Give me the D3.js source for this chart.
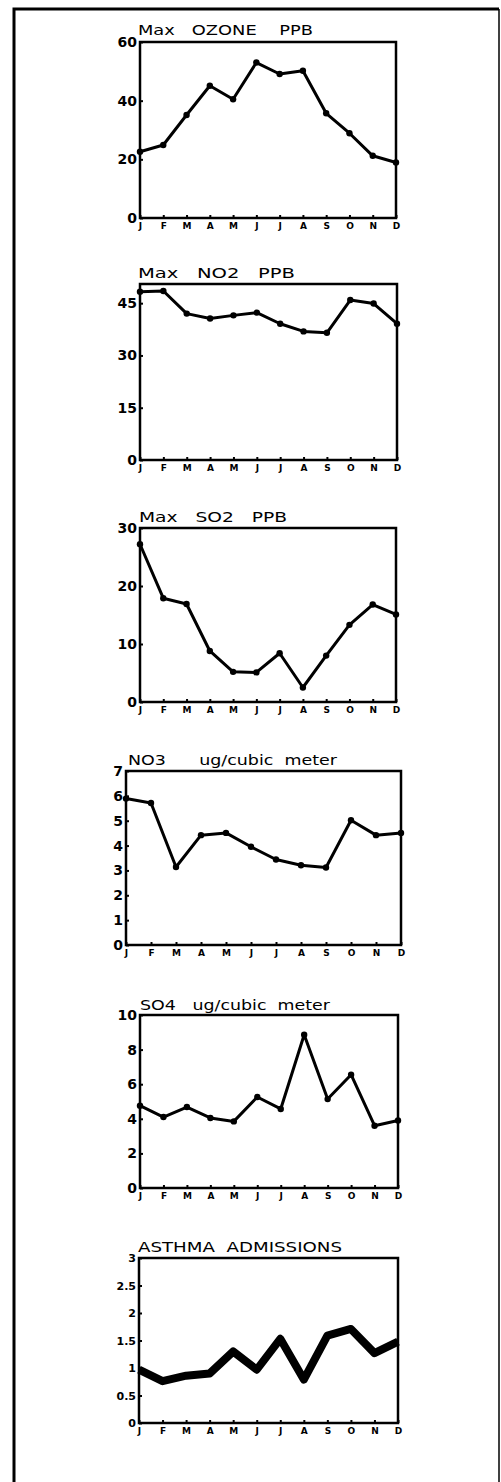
<!DOCTYPE html>
<html>
<head>
<meta charset="utf-8">
<script src="https://cdn.jsdelivr.net/npm/d3@7"></script>
<style>
  body { margin: 0; background: #fff; }
  svg { display: block; }
</style>
</head>
<body>
<div id="chart"></div>
<script>
// monthly values
var months = ["J", "F", "M", "A", "M", "J", "J", "A", "S", "O", "N", "D"];

var ozone  = [22.6, 24.9, 35.1, 45.1, 40.5, 53.0, 49.1, 50.2, 35.7, 28.9, 21.2, 18.9];
var no2    = [48.3, 48.5, 42.0, 40.6, 41.5, 42.3, 39.1, 36.9, 36.5, 45.9, 44.9, 39.1];
var so2    = [27.2, 17.9, 16.9, 8.8, 5.2, 5.1, 8.4, 2.5, 8.0, 13.3, 16.8, 15.1];
var no3    = [5.89, 5.71, 3.14, 4.42, 4.51, 3.95, 3.44, 3.21, 3.12, 5.02, 4.42, 4.51];
var so4    = [4.76, 4.10, 4.68, 4.05, 3.85, 5.26, 4.57, 8.86, 5.14, 6.55, 3.60, 3.90];
var asthma = [0.97, 0.76, 0.86, 0.90, 1.30, 0.97, 1.53, 0.79, 1.59, 1.71, 1.27, 1.48];

var ozoneTicks  = [0, 20, 40, 60];
var no2Ticks    = [0, 15, 30, 45];
var so2Ticks    = [0, 10, 20, 30];
var no3Ticks    = [0, 1, 2, 3, 4, 5, 6, 7];
var so4Ticks    = [0, 2, 4, 6, 8, 10];
var asthmaTicks = [0, 0.5, 1, 1.5, 2, 2.5, 3];

var titles = [
  "Max   OZONE    PPB",
  "Max   NO2   PPB",
  "Max   SO2   PPB",
  "NO3      ug/cubic  meter",
  "SO4   ug/cubic  meter",
  "ASTHMA  ADMISSIONS"
];

// layout of each little plot box (pixels); tw = width the title stretches over
var panels = [
  { values: ozone,  ticks: ozoneTicks,  max: 60,   x0: 140, x1: 396, y0: 42,   y1: 218,  tx: 138, ty: 35,   tw: 175 },
  { values: no2,    ticks: no2Ticks,    max: 50.5, x0: 140, x1: 397, y0: 284,  y1: 460,  tx: 138, ty: 278,  tw: 157 },
  { values: so2,    ticks: so2Ticks,    max: 30,   x0: 140, x1: 396, y0: 528,  y1: 702,  tx: 139, ty: 522,  tw: 148 },
  { values: no3,    ticks: no3Ticks,    max: 7,    x0: 126, x1: 401, y0: 771,  y1: 945,  tx: 128, ty: 765,  tw: 209 },
  { values: so4,    ticks: so4Ticks,    max: 10,   x0: 140, x1: 398, y0: 1015, y1: 1188, tx: 140, ty: 1010, tw: 190 },
  { values: asthma, ticks: asthmaTicks, max: 3,    x0: 139, x1: 398, y0: 1258, y1: 1423, tx: 138, ty: 1252, tw: 204, thick: true }
];

var width = 501;
var height = 1482;
var font = "'DejaVu Sans', sans-serif";

var svg = d3.select("#chart")
    .append("svg")
    .attr("width", width)
    .attr("height", height);

svg.append("rect")
    .attr("width", width)
    .attr("height", height)
    .attr("fill", "#fff");

//-------------------------OUTER FRAME-------------------------\\
svg.append("path")
    .attr("d", "M14," + height + "V9H499")
    .attr("fill", "none")
    .attr("stroke", "#000")
    .attr("stroke-width", 3);
svg.append("line")
    .attr("x1", 499).attr("x2", 499)
    .attr("y1", 9).attr("y2", height)
    .attr("stroke", "#000")
    .attr("stroke-width", 1.5);

panels.forEach(function (p, k) {
  var x = d3.scaleLinear()
      .domain([0, months.length - 1])
      .range([p.x0, p.x1]);

  var y = d3.scaleLinear()
      .domain([0, p.max])
      .range([p.y1, p.y0]);

  var g = svg.append("g").attr("class", "panel");

  // title, stretched like the old plotter lettering
  g.append("text")
      .attr("x", p.tx)
      .attr("y", p.ty)
      .attr("xml:space", "preserve")
      .attr("textLength", p.tw)
      .attr("lengthAdjust", "spacingAndGlyphs")
      .style("font-family", font)
      .style("font-size", "13.5px")
      .style("white-space", "pre")
      .text(titles[k]);

  // y axis
  var yAxis = g.append("g")
      .attr("transform", "translate(" + p.x0 + ",0)")
      .call(d3.axisLeft(y).tickValues(p.ticks).tickSize(-3).tickPadding(3)
        .tickFormat(function (d) { return d; }));
  yAxis.select(".domain").remove();
  yAxis.selectAll("line").attr("stroke-width", 2);
  yAxis.selectAll("text")
      .style("font-family", font)
      .style("font-weight", "700")
      .style("font-size", p.thick ? "11px" : "14px")
      .attr("fill", "#000");

  // x axis (month letters)
  var xAxis = g.append("g")
      .attr("transform", "translate(0," + p.y1 + ")")
      .call(d3.axisBottom(x).tickValues(d3.range(months.length)).tickSize(-3).tickPadding(5)
        .tickFormat(function (i) { return months[i]; }));
  xAxis.select(".domain").remove();
  xAxis.selectAll("line").attr("stroke-width", 2);
  xAxis.selectAll("text")
      .style("font-family", font)
      .style("font-weight", "700")
      .style("font-size", "9px")
      .attr("fill", "#000");

  // plot box
  g.append("rect")
      .attr("x", p.x0)
      .attr("y", p.y0)
      .attr("width", p.x1 - p.x0)
      .attr("height", p.y1 - p.y0)
      .attr("fill", "none")
      .attr("stroke", "#000")
      .attr("stroke-width", 2.5);

  // the monthly line
  var line = d3.line()
      .x(function (d, i) { return x(i); })
      .y(function (d) { return y(d); });

  g.append("path")
      .datum(p.values)
      .attr("d", line)
      .attr("fill", "none")
      .attr("stroke", "#000")
      .attr("stroke-width", p.thick ? 8 : 3)
      .attr("stroke-linejoin", "round");

  if (!p.thick) {
    g.selectAll(".dot")
        .data(p.values)
        .join("circle")
        .attr("class", "dot")
        .attr("cx", function (d, i) { return x(i); })
        .attr("cy", function (d) { return y(d); })
        .attr("r", 3.2)
        .attr("fill", "#000");
  }
});
</script>
</body>
</html>
